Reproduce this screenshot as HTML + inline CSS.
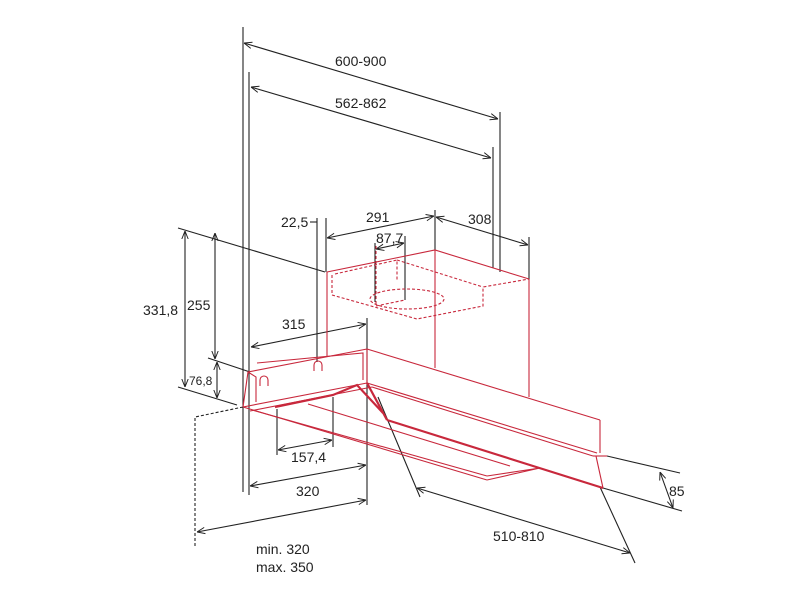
<!DOCTYPE html>
<html><head><meta charset="utf-8"><style>
html,body{margin:0;padding:0;background:#fff;}
svg{display:block;}
text{font-family:"Liberation Sans",sans-serif;font-size:14px;fill:#222;}
</style></head><body>
<svg width="800" height="600" viewBox="0 0 800 600" xmlns="http://www.w3.org/2000/svg">
<defs>
<marker id="a" viewBox="0 0 10 10" refX="10" refY="5" markerWidth="8" markerHeight="8" orient="auto-start-reverse" markerUnits="userSpaceOnUse">
<path d="M0,1 L10,5 L0,9" fill="none" stroke="#222" stroke-width="1.2"/>
</marker>
</defs>
<g stroke="#222" stroke-width="1.1" fill="none">
<line x1="243" y1="27" x2="243" y2="492"/>
<line x1="249" y1="72" x2="249" y2="495"/>
<line x1="500" y1="112" x2="500" y2="272"/>
<line x1="493" y1="147" x2="493" y2="268"/>
<line x1="317" y1="218" x2="317" y2="362"/>
<line x1="326" y1="218" x2="326" y2="272"/>
<line x1="435" y1="210" x2="435" y2="250"/>
<line x1="529" y1="237" x2="529" y2="280"/>
<line x1="375" y1="243" x2="375" y2="302"/>
<line x1="405" y1="236" x2="405" y2="300"/>
<line x1="367" y1="318" x2="367" y2="505"/>
<line x1="277" y1="409" x2="277" y2="455"/>
<line x1="333" y1="397" x2="333" y2="447"/>
<line x1="244" y1="43" x2="498" y2="119" marker-start="url(#a)" marker-end="url(#a)"/>
<line x1="251" y1="87" x2="491" y2="158" marker-start="url(#a)" marker-end="url(#a)"/>
<line x1="310" y1="222" x2="317" y2="222"/>
<line x1="327" y1="238" x2="434" y2="216" marker-start="url(#a)" marker-end="url(#a)"/>
<line x1="436" y1="217" x2="528" y2="245" marker-start="url(#a)" marker-end="url(#a)"/>
<line x1="376" y1="249" x2="404" y2="243" marker-start="url(#a)" marker-end="url(#a)"/>
<line x1="251" y1="347" x2="366" y2="324" marker-start="url(#a)" marker-end="url(#a)"/>
<line x1="278" y1="450" x2="332" y2="440" marker-start="url(#a)" marker-end="url(#a)"/>
<line x1="250" y1="486" x2="366" y2="465" marker-start="url(#a)" marker-end="url(#a)"/>
<line x1="197" y1="532" x2="366" y2="500" marker-start="url(#a)" marker-end="url(#a)"/>
<line x1="417" y1="488" x2="630" y2="553" marker-start="url(#a)" marker-end="url(#a)"/>
<line x1="660" y1="472" x2="673" y2="508" marker-start="url(#a)" marker-end="url(#a)"/>
<line x1="178" y1="228" x2="325" y2="272"/>
<line x1="178" y1="387" x2="237" y2="405"/>
<line x1="208" y1="358" x2="250" y2="372"/>
<line x1="185" y1="231" x2="185" y2="387" marker-start="url(#a)" marker-end="url(#a)"/>
<line x1="215" y1="233" x2="215" y2="359" marker-start="url(#a)" marker-end="url(#a)"/>
<line x1="217" y1="362" x2="217" y2="398" marker-start="url(#a)" marker-end="url(#a)"/>
<line x1="607" y1="456" x2="680" y2="473"/>
<line x1="603" y1="488" x2="682" y2="511"/>
<line x1="600" y1="487" x2="635" y2="563"/>
<line x1="378" y1="397" x2="420" y2="497"/>
<polyline points="243,407 195,417 195,548" stroke-dasharray="3,2"/>
</g>
<g stroke="#c8283c" stroke-width="1.1" fill="none">
<polyline points="327,272 435,250 529,279"/>
<line x1="327" y1="272" x2="327" y2="357"/>
<line x1="435" y1="250" x2="435" y2="368"/>
<line x1="529" y1="279" x2="529" y2="397"/>
<g stroke-dasharray="3,2">
<polyline points="332,275 332,295 417,319 483,306 483,287 529,279"/>
<polyline points="397,260 483,287"/>
<polyline points="335,274 397,260 397,280"/>
<polyline points="376,246 376,306 405,300"/>
<ellipse cx="407" cy="299" rx="37" ry="10"/>
</g>
<polyline points="243,407 248,372 367,349 367,383"/>
<polyline points="257,363 363,353 363,380"/>
<polyline points="248,372 256,377 256,402"/>
<line x1="243" y1="407" x2="367" y2="383"/>
<line x1="250" y1="411" x2="372" y2="387"/>
<line x1="367" y1="349" x2="600" y2="420"/>
<line x1="600" y1="420" x2="600" y2="453"/>
<line x1="367" y1="383" x2="597" y2="453"/>
<line x1="372" y1="387" x2="593" y2="456"/>
<line x1="593" y1="456" x2="607" y2="456"/>
<line x1="596" y1="456" x2="603" y2="488"/>
<line x1="243" y1="407" x2="487" y2="480"/>
<line x1="252" y1="410" x2="487" y2="476"/>
<line x1="308" y1="404" x2="510" y2="466"/>
<polyline points="487,480 540,468 487,476"/>
<path d="M260,386 v-6 a4,4 0 0 1 8,0 v6 M314,371 v-6 a4,4 0 0 1 8,0 v6"/>
<g stroke-width="2.2">
<polyline points="275,407 333,395 357,385 383,413"/>
<line x1="387" y1="420" x2="603" y2="488"/>
<line x1="367" y1="383" x2="387" y2="420"/>
</g>
</g>
<text x="335" y="66">600-900</text>
<text x="335" y="108">562-862</text>
<text x="281" y="227">22,5</text>
<text x="366" y="222">291</text>
<text x="468" y="224">308</text>
<text x="376" y="243">87,7</text>
<text x="282" y="329">315</text>
<text x="143" y="315">331,8</text>
<text x="187" y="310">255</text>
<text x="189" y="385" style="font-size:12px">76,8</text>
<text x="291" y="462">157,4</text>
<text x="296" y="496">320</text>
<text x="256" y="554">min. 320</text>
<text x="256" y="572">max. 350</text>
<text x="493" y="541">510-810</text>
<text x="669" y="496">85</text>
</svg>
</body></html>
